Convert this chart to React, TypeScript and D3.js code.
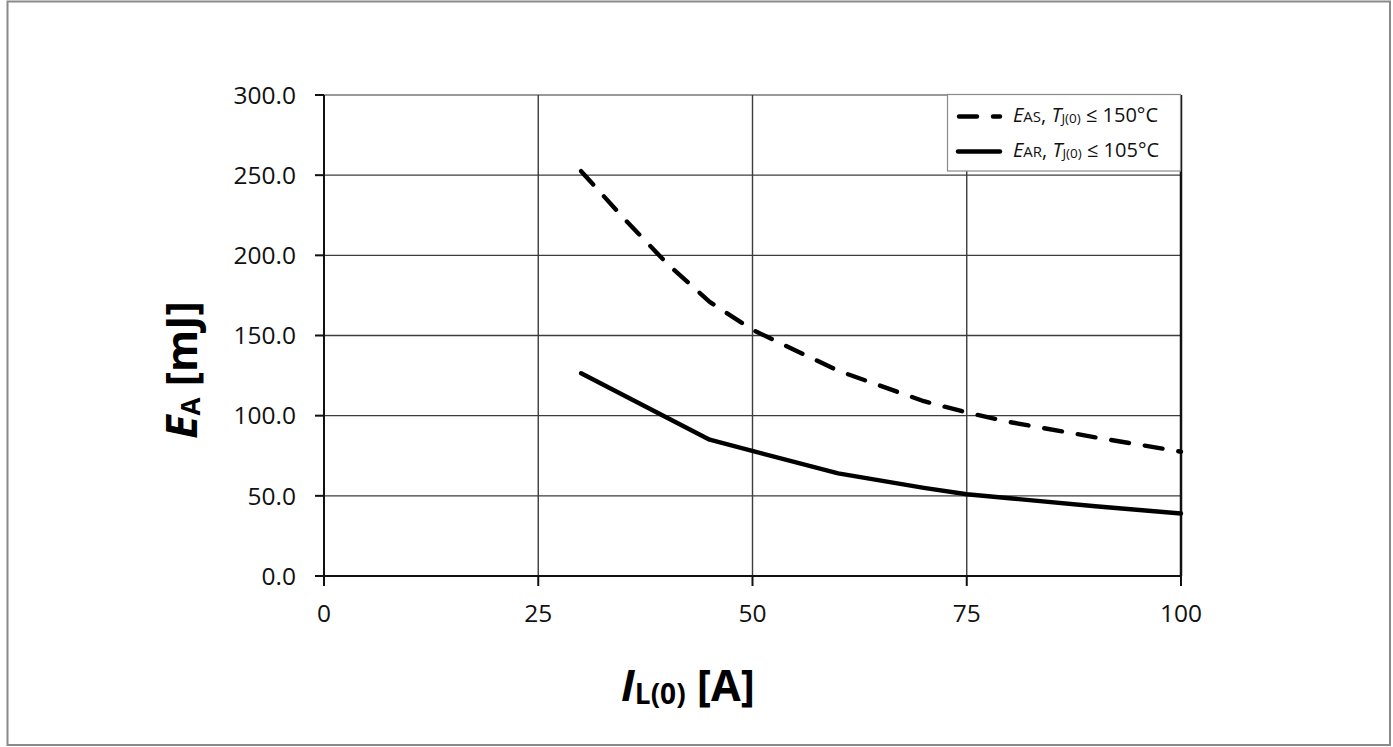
import React from "react";
import * as d3 from "d3";

const xTicks = [0, 25, 50, 75, 100];
const yTicks = [0, 50, 100, 150, 200, 250, 300];

const easCurrent = [30, 35, 40, 45, 50, 60, 70, 75, 80, 90, 100];
const easEnergy = [252.5, 223, 195, 171, 153.5, 128, 109, 102, 96, 86.5, 77.5];

const earCurrent = [30, 45, 60, 70, 75, 80, 90, 100];
const earEnergy = [126.5, 85, 64, 55, 51, 48.5, 43.5, 39];

const W = 1393;
const H = 747;
const FONT = "'Open Sans', 'DejaVu Sans', sans-serif";

export default function App() {
  const x = d3.scaleLinear().domain([0, 100]).range([324, 1181]);
  const y = d3.scaleLinear().domain([0, 300]).range([576, 95]);

  const line = d3
    .line<[number, number]>()
    .x((d) => x(d[0]))
    .y((d) => y(d[1]));

  const easPts: [number, number][] = easCurrent.map((c, i) => [c, easEnergy[i]]);
  const earPts: [number, number][] = earCurrent.map((c, i) => [c, earEnergy[i]]);

  const gridColor = "#3c3c3c";

  return (
    <svg
      width={W}
      height={H}
      style={{ position: "absolute", left: 0, top: 0, background: "#fff" }}
      fontFamily={FONT}
    >
      <rect x={0} y={0} width={W} height={H} fill="#fff" />
      {/* outer frame */}
      <rect x={7.5} y={1.5} width={1382.5} height={743.5} fill="none" stroke="#8a8a8a" strokeWidth={2} />

      {/* horizontal grid */}
      {yTicks.filter((t) => t > 0).map((t) => (
        <line
          key={"hg" + t}
          x1={x(0)}
          x2={x(100)}
          y1={y(t)}
          y2={y(t)}
          stroke={t === 300 ? "#777" : gridColor}
          strokeWidth={1.4}
        />
      ))}
      {/* vertical grid */}
      {xTicks.filter((t) => t > 0 && t < 100).map((t) => (
        <line
          key={"vg" + t}
          x1={x(t)}
          x2={x(t)}
          y1={y(0)}
          y2={y(300)}
          stroke={gridColor}
          strokeWidth={1.4}
        />
      ))}
      {/* right border */}
      <line x1={x(100)} x2={x(100)} y1={y(0)} y2={y(300)} stroke="#111" strokeWidth={2.5} />
      {/* axes */}
      <line x1={x(0)} x2={x(0)} y1={y(0)} y2={y(300)} stroke="#111" strokeWidth={2} />
      <line x1={x(0)} x2={x(100)} y1={y(0)} y2={y(0)} stroke="#111" strokeWidth={2} />

      {/* ticks */}
      {yTicks.map((t) => (
        <line key={"yt" + t} x1={x(0) - 9} x2={x(0)} y1={y(t)} y2={y(t)} stroke="#111" strokeWidth={2} />
      ))}
      {xTicks.map((t) => (
        <line key={"xt" + t} x1={x(t)} x2={x(t)} y1={y(0)} y2={y(0) + 10} stroke="#111" strokeWidth={2} />
      ))}

      {/* tick labels */}
      {yTicks.map((t) => (
        <text
          key={"yl" + t}
          x={296}
          y={y(t)}
          dy="0.36em"
          textAnchor="end"
          fontSize={24.5}
          fill="#111"
        >
          {t.toFixed(1)}
        </text>
      ))}
      {xTicks.map((t) => (
        <text key={"xl" + t} x={x(t)} y={622} textAnchor="middle" fontSize={24.5} fill="#111">
          {t}
        </text>
      ))}

      {/* series */}
      <path
        d={line(easPts) || ""}
        fill="none"
        stroke="#000"
        strokeWidth={4.4}
        strokeDasharray="18,16"
        strokeLinecap="round"
        strokeLinejoin="round"
      />
      <path
        d={line(earPts) || ""}
        fill="none"
        stroke="#000"
        strokeWidth={4.4}
        strokeLinecap="round"
        strokeLinejoin="round"
      />

      {/* legend */}
      <rect x={947.5} y={94.5} width={233} height={76.5} fill="#fff" stroke="#8a8a8a" strokeWidth={1.2} />
      <line x1={959} x2={1000} y1={116.5} y2={116.5} stroke="#000" strokeWidth={4.4} strokeDasharray="18,16" strokeLinecap="round" />
      <line x1={958} x2={1000} y1={151.5} y2={151.5} stroke="#000" strokeWidth={4.4} strokeLinecap="round" />
      <text x={1013} y={121.5} fontSize={20} fill="#111">
        <tspan fontStyle="italic">E</tspan>
        <tspan fontSize={15}>AS</tspan>
        <tspan>, </tspan>
        <tspan fontStyle="italic">T</tspan>
        <tspan fontSize={13.5} dy={1}>J(0)</tspan>
        <tspan dy={-1}> ≤ 150°C</tspan>
      </text>
      <text x={1013} y={156.5} fontSize={20} fill="#111">
        <tspan fontStyle="italic">E</tspan>
        <tspan fontSize={15}>AR</tspan>
        <tspan>, </tspan>
        <tspan fontStyle="italic">T</tspan>
        <tspan fontSize={13.5} dy={1}>J(0)</tspan>
        <tspan dy={-1}> ≤ 105°C</tspan>
      </text>

      {/* y axis title */}
      <text
        transform="translate(197,370) rotate(-90)"
        textAnchor="middle"
        fontSize={43}
        fontWeight="bold"
        fill="#000"
      >
        <tspan fontStyle="italic">E</tspan>
        <tspan fontSize={26} dy={3}>A</tspan>
        <tspan dy={-3}> [mJ]</tspan>
      </text>

      {/* x axis title */}
      <text x={688} y={701} textAnchor="middle" fontSize={43} fontWeight="bold" fill="#000">
        <tspan fontStyle="italic">I</tspan>
        <tspan fontSize={28} dy={3}>L(0)</tspan>
        <tspan dy={-3}> [A]</tspan>
      </text>
    </svg>
  );
}
